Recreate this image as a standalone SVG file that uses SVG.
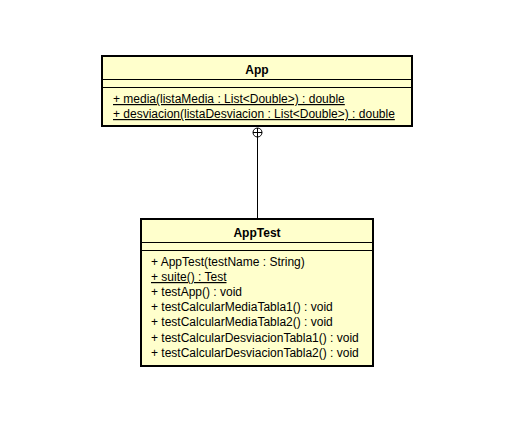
<svg xmlns="http://www.w3.org/2000/svg" width="505" height="427" viewBox="0 0 505 427">
  <style>
    .box { fill: #FFFFCC; stroke: #000; stroke-width: 2; }
    .sep { stroke: #000; stroke-width: 1; }
    .title { font-family: "Liberation Sans", Arial, sans-serif; font-size: 12px; font-weight: bold; text-anchor: middle; fill: #000; }
    .member { font-family: "Liberation Sans", Arial, sans-serif; font-size: 12px; fill: #000; }
    .static { text-decoration: underline; }
    .conn { stroke: #000; stroke-width: 1; fill: none; }
  </style>
  <rect width="505" height="427" fill="#fff"/>

  <g id="App">
    <rect class="box" x="102" y="56" width="310" height="70"/>
    <line class="sep" x1="102" y1="79.5" x2="412" y2="79.5"/>
    <line class="sep" x1="102" y1="87.5" x2="412" y2="87.5"/>
    <text class="title" x="257" y="74">App</text>
    <text class="member static" x="113" y="103">+ media(listaMedia : List&lt;Double&gt;) : double</text>
    <text class="member static" x="113" y="118">+ desviacion(listaDesviacion : List&lt;Double&gt;) : double</text>
  </g>

  <g id="AppTest">
    <rect class="box" x="141" y="219" width="232" height="147"/>
    <line class="sep" x1="141" y1="242.5" x2="373" y2="242.5"/>
    <line class="sep" x1="141" y1="250.5" x2="373" y2="250.5"/>
    <text class="title" x="257" y="237">AppTest</text>
    <text class="member" x="151" y="266">+ AppTest(testName : String)</text>
    <text class="member static" x="151" y="281">+ suite() : Test</text>
    <text class="member" x="151" y="296">+ testApp() : void</text>
    <text class="member" x="151" y="311">+ testCalcularMediaTabla1() : void</text>
    <text class="member" x="151" y="326">+ testCalcularMediaTabla2() : void</text>
    <text class="member" x="151" y="342">+ testCalcularDesviacionTabla1() : void</text>
    <text class="member" x="151" y="357">+ testCalcularDesviacionTabla2() : void</text>
  </g>

  <g id="connectors">
    <!-- nesting (containment) link: circled plus on the owner side -->
    <circle class="conn" cx="257.5" cy="132.5" r="4.5"/>
    <line class="conn" x1="253" y1="132.5" x2="262" y2="132.5"/>
    <line class="conn" x1="257.5" y1="128" x2="257.5" y2="218"/>
  </g>
</svg>
